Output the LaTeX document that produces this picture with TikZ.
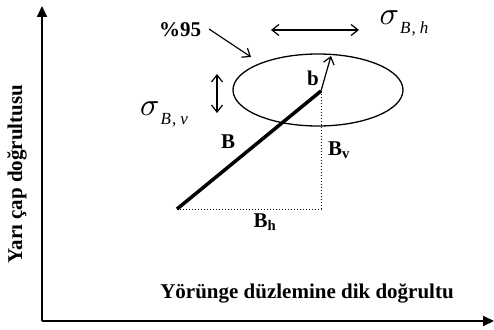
\documentclass[tikz,border=0pt]{standalone}
\usepackage{graphicx}
\usepackage{fontspec}
\setmainfont{Liberation Serif}
\usetikzlibrary{arrows.meta,shapes.geometric}

\newcommand{\spread}[1]{\scalebox{3.2}{$\sigma$}\kern1pt\raisebox{-9pt}{\fontsize{17}{17}\selectfont\itshape B\kern1pt,\kern4pt#1}}

\begin{document}
\begin{tikzpicture}[x=1pt, y=-1pt,
    every node/.style={font=\fontsize{21}{23}\selectfont\bfseries, inner sep=1pt},
    axis/.style={line width=2pt, -{Triangle[length=11pt, width=10pt]}},
    vee/.style={line width=1.2pt, -{Straight Barb[length=7pt, width=11pt]}},
    dblarrow/.style={line width=1.2pt, {Straight Barb[length=7pt, width=11pt]}-{Straight Barb[length=7pt, width=11pt]}},
    comp/.style={dotted, line width=1pt},
    sig/.style={font=\normalfont}
]
\useasboundingbox (0,0) rectangle (494,329);

% Axes
\coordinate (origin) at (42,321);
\coordinate (ytip) at (42,6);
\coordinate (xtip) at (494,321);
\draw[axis] (origin) -- (ytip);
\draw[axis] (origin) -- (xtip);
\node[rotate=90] (ylabel) at (17,174) {Yarı çap doğrultusu};
\node (xlabel) at (307,293) {Yörünge düzlemine dik doğrultu};

% Region
\node[draw, ellipse, line width=1.3pt, minimum width=170pt, minimum height=72pt] (region) at (318,90) {};

% Vectors
\coordinate (start) at (177,209);
\coordinate (end) at (321,91);
\coordinate (corner) at (321,209);
\coordinate (btip) at (331,56);
\draw[line width=3.5pt] (start) -- (end);
\draw[comp] (start) -- (corner) -- (end);
\draw[vee] (end) -- (btip);
\node (B) at (228,142) {B};
\node (Bv) at (339,150) {B\textsubscript{v}};
\node (Bh) at (265,222) {B\textsubscript{h}};
\node (b) at (313,78) {b};

% Spreads
\coordinate (vtop) at (217,74);
\coordinate (vbot) at (217,113);
\coordinate (hleft) at (271,30);
\coordinate (hright) at (359,30);
\draw[dblarrow] (vtop) -- (vbot);
\draw[dblarrow] (hleft) -- (hright);
\node[sig] (sigv) at (164,114) {\spread{v}};
\node[sig] (sigh) at (404,23) {\spread{h}};

% Confidence
\node (pct) at (180,30) {\%95};
\coordinate (pctfoot) at (209,29);
\coordinate (pcttip) at (251,57);
\draw[vee] (pctfoot) -- (pcttip);

\end{tikzpicture}
\end{document}
